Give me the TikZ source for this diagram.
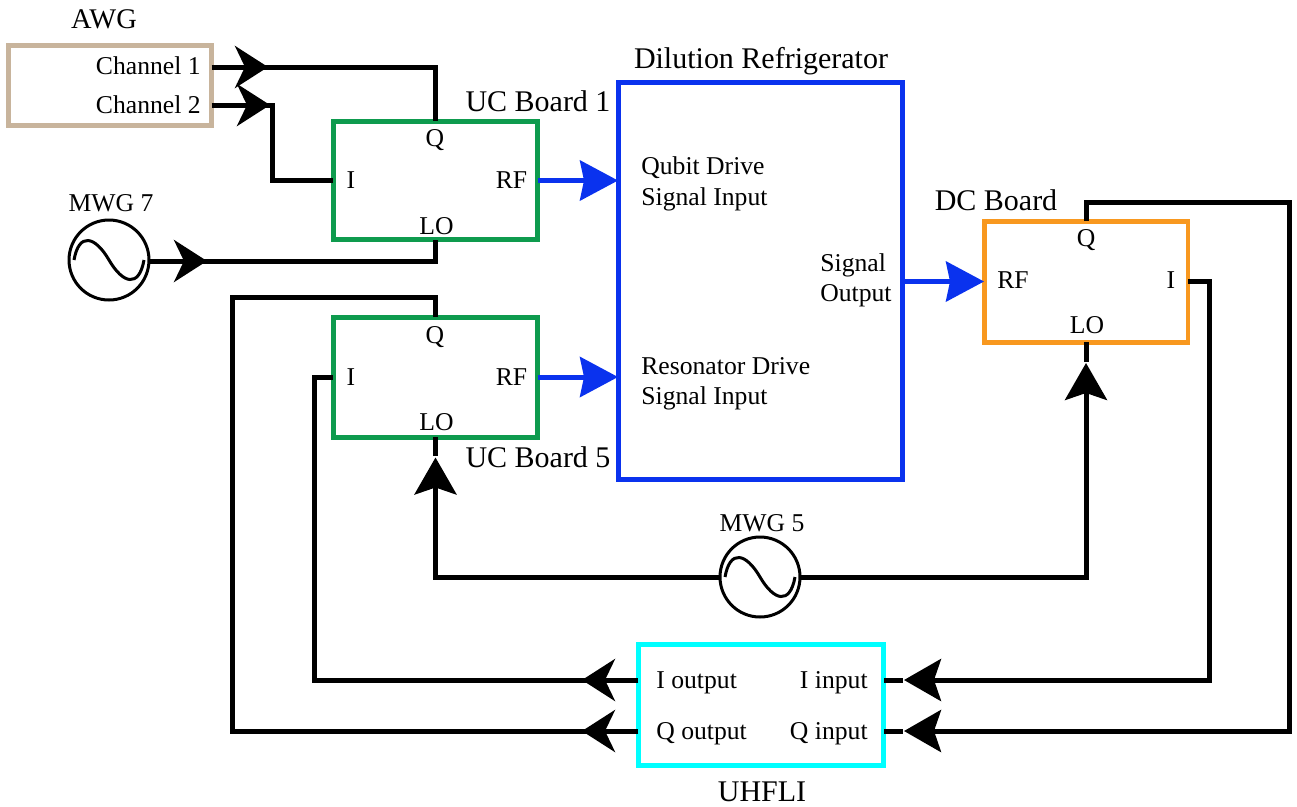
\documentclass[tikz,border=0pt]{standalone}
\usepackage{fontspec}
\setmainfont{Liberation Serif}
\usepackage{xcolor}
\usetikzlibrary{arrows.meta}
\definecolor{awgtan}{HTML}{C8B49C}
\definecolor{boardgreen}{HTML}{0E9B4E}
\definecolor{fridgeblue}{HTML}{0A32EE}
\definecolor{dcorange}{HTML}{F8981F}
\definecolor{uhfcyan}{HTML}{00FFFF}
\tikzstyle{box} = [rectangle, draw=black, fill=white, line width=0.1cm, outer sep=0pt, inner sep=0pt]
\tikzstyle{mwg} = [circle, draw=black, fill=white, line width=0.06cm, minimum size=1.6cm, outer sep=0pt, inner sep=0pt]
\tikzstyle{small} = [font=\fontsize{14.6}{17.3}\selectfont, inner sep=0pt]
\tikzstyle{large} = [font=\fontsize{17.07}{20}\selectfont, inner sep=0pt]
\tikzstyle{wire} = [line width=0.1cm, black, miter limit=10]
\tikzstyle{arrow} = [wire, -{Stealth[length=0.66cm, width=0.84cm, inset=0.2cm]}]
\tikzstyle{longarrow} = [wire, -{Stealth[length=0.74cm, width=0.84cm, inset=0.14cm]}]
\tikzstyle{rfarrow} = [line width=0.1cm, fridgeblue, -{Stealth[length=0.76cm, width=0.8cm, inset=0.08cm]}]
\newcommand{\sinewave}[1]{\draw[line width=0.06cm, shift={(#1.center)}] (-35,0) .. controls (-30,-28) and (-14,-24) .. (0,0) .. controls (14,24) and (30,28) .. (35,0);}

\begin{document}
\begin{tikzpicture}[x=0.02cm, y=-0.02cm]
\useasboundingbox (0,0) rectangle (1297,806);

% instruments and boards
\node[box, draw=awgtan, minimum width=4.08cm, minimum height=1.6cm] (awg) at (110,85) {};
\node[box, draw=boardgreen, minimum width=4.1cm, minimum height=2.38cm] (ucone) at (435.5,180.5) {};
\node[box, draw=boardgreen, minimum width=4.1cm, minimum height=2.4cm] (ucfive) at (435.5,377) {};
\node[box, draw=fridgeblue, minimum width=5.7cm, minimum height=7.96cm] (fridge) at (760.5,281) {};
\node[box, draw=dcorange, minimum width=4.08cm, minimum height=2.42cm] (dcboard) at (1086,281.5) {};
\node[box, draw=uhfcyan, minimum width=4.92cm, minimum height=2.42cm] (uhfli) at (761,704.5) {};
\node[mwg] (mwgseven) at (109,260) {};
\node[mwg] (mwgfive) at (760,577) {};
\sinewave{mwgseven}
\sinewave{mwgfive}

% outer labels
\node[small, anchor=base, font=\fontsize{16.2}{19}\selectfont] (awglabel) at (104,28) {AWG};
\node[small, anchor=base] (mwgsevenlabel) at (111,211) {MWG 7};
\node[small, anchor=base] (mwgfivelabel) at (762,531) {MWG 5};
\node[large, anchor=base] (fridgelabel) at (761,68) {Dilution Refrigerator};
\node[large, anchor=base] (uconelabel) at (538,111) {UC Board 1};
\node[large, anchor=base] (ucfivelabel) at (538,467) {UC Board 5};
\node[large, anchor=base] (dclabel) at (996,210) {DC Board};
\node[large, anchor=base] (uhflabel) at (762,801) {UHFLI};

% ports
\node[small, anchor=base east] (chone) at (201,74) {Channel 1};
\node[small, anchor=base east] (chtwo) at (201,113) {Channel 2};
\node[small, anchor=base] (uconeq) at (435,146) {Q};
\node[small, anchor=base] (uconei) at (351,188) {I};
\node[small, anchor=base] (uconerf) at (511.5,188) {RF};
\node[small, anchor=base] (uconelo) at (436.5,234) {LO};
\node[small, anchor=base] (ucfiveq) at (435,343) {Q};
\node[small, anchor=base] (ucfivei) at (351,385) {I};
\node[small, anchor=base] (ucfiverf) at (511.5,385) {RF};
\node[small, anchor=base] (ucfivelo) at (436.5,430) {LO};
\node[small, anchor=base] (dcq) at (1086,246) {Q};
\node[small, anchor=base west] (dcrf) at (997,288) {RF};
\node[small, anchor=base] (dci) at (1171,288) {I};
\node[small, anchor=base] (dclo) at (1087,333) {LO};
\node[small, anchor=west, align=left] (qubitin) at (641,184) {Qubit Drive\\Signal Input};
\node[small, anchor=west, align=left] (resin) at (641,384) {Resonator Drive\\Signal Input};
\node[small, anchor=west, align=left] (sigout) at (820,280.5) {Signal\\Output};
\node[small, anchor=base west] (ioutlabel) at (656,688) {I output};
\node[small, anchor=base west] (qoutlabel) at (656,739) {Q output};
\node[small, anchor=base east] (iinlabel) at (868,688) {I input};
\node[small, anchor=base east] (qinlabel) at (868,739) {Q input};

% places where the tips sit on the wires
\coordinate (chonetip) at (268,67);
\coordinate (chtwotip) at (270,105);
\coordinate (mwgseventip) at (207,261);
\coordinate (ucfivetip) at (435.5,457.5);
\coordinate (dctip) at (1086,363);
\coordinate (iouttip) at (582,680);
\coordinate (qouttip) at (582,731);
\coordinate (iintip) at (904,680);
\coordinate (qintip) at (904,731);
\coordinate (iinstub) at (902.5,680);
\coordinate (qinstub) at (902.5,731);
\coordinate (ucfivestub) at (435.5,456);
\coordinate (dcstub) at (1086,361.5);

% control wires
\draw[wire] (awg.east |- chonetip) -| (ucone.north);
\draw[arrow] (awg.east |- chonetip) -- (chonetip);
\draw[wire] (awg.east |- chtwotip) -- (272,105) |- (ucone.west);
\draw[arrow] (awg.east |- chtwotip) -- (chtwotip);
\draw[wire] (mwgseven.east |- mwgseventip) -| (ucone.south);
\draw[arrow] (mwgseven.east |- mwgseventip) -- (mwgseventip);
\draw[longarrow] (mwgfive.west) -| (ucfivetip);
\draw[wire] (ucfivestub) -- (ucfive.south);
\draw[longarrow] (mwgfive.east) -| (dctip);
\draw[wire] (dcstub) -- (dcboard.south);

% UHFLI wires
\draw[wire] (uhfli.west |- iouttip) -| (314,377) -- (ucfive.west);
\draw[arrow] (uhfli.west |- iouttip) -- (iouttip);
\draw[wire] (uhfli.west |- qouttip) -| (232,297) -| (ucfive.north);
\draw[arrow] (uhfli.west |- qouttip) -- (qouttip);
\draw[longarrow] (dcboard.east) -- (1209,281.5) |- (iintip);
\draw[wire] (iinstub) -- (uhfli.east |- iinstub);
\draw[longarrow] (dcboard.north) |- (1289,202) |- (qintip);
\draw[wire] (qinstub) -- (uhfli.east |- qinstub);

% signal path
\draw[rfarrow] (ucone.east) -- (fridge.west |- ucone.east);
\draw[rfarrow] (ucfive.east) -- (fridge.west |- ucfive.east);
\draw[rfarrow] (fridge.east |- dcboard.west) -- (dcboard.west);
\end{tikzpicture}
\end{document}
